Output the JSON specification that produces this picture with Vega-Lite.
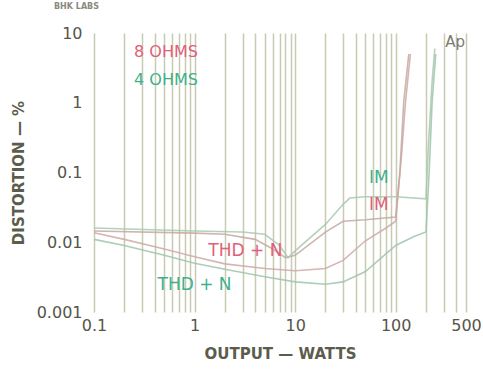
{
  "$schema": "https://vega.github.io/schema/vega-lite/v6.json",
  "width": 372,
  "height": 279,
  "autosize": "none",
  "padding": {"left": 94, "top": 33, "right": 17, "bottom": 58},
  "background": "#ffffff",
  "config": {"view": {"stroke": null}},
  "title": {"text": "BHK LABS", "anchor": "start", "frame": "group", "dx": -40, "offset": 14, "fontSize": 8, "font": "DejaVu Sans", "fontWeight": "bold", "color": "#8a8a80"},
  "resolve": {"scale": {"color": "independent"}},
  "datasets": {
    "curves": [
      {"series": "THD 8", "watts": 0.1, "pct": 0.0137},
      {"series": "THD 8", "watts": 0.2, "pct": 0.011},
      {"series": "THD 8", "watts": 0.5, "pct": 0.008},
      {"series": "THD 8", "watts": 1, "pct": 0.0062},
      {"series": "THD 8", "watts": 2, "pct": 0.0049},
      {"series": "THD 8", "watts": 5, "pct": 0.0042},
      {"series": "THD 8", "watts": 10, "pct": 0.0039},
      {"series": "THD 8", "watts": 20, "pct": 0.0042},
      {"series": "THD 8", "watts": 30, "pct": 0.0055},
      {"series": "THD 8", "watts": 50, "pct": 0.0105},
      {"series": "THD 8", "watts": 80, "pct": 0.016},
      {"series": "THD 8", "watts": 100, "pct": 0.02},
      {"series": "THD 8", "watts": 115, "pct": 0.2},
      {"series": "THD 8", "watts": 125, "pct": 1},
      {"series": "THD 8", "watts": 140, "pct": 5},
      {"series": "THD 4", "watts": 0.1, "pct": 0.011},
      {"series": "THD 4", "watts": 0.2, "pct": 0.009},
      {"series": "THD 4", "watts": 0.5, "pct": 0.0065},
      {"series": "THD 4", "watts": 1, "pct": 0.005},
      {"series": "THD 4", "watts": 2, "pct": 0.0041},
      {"series": "THD 4", "watts": 5, "pct": 0.0032},
      {"series": "THD 4", "watts": 10, "pct": 0.0027},
      {"series": "THD 4", "watts": 20, "pct": 0.0025},
      {"series": "THD 4", "watts": 30, "pct": 0.0027},
      {"series": "THD 4", "watts": 50, "pct": 0.0038},
      {"series": "THD 4", "watts": 100, "pct": 0.009},
      {"series": "THD 4", "watts": 150, "pct": 0.012},
      {"series": "THD 4", "watts": 200, "pct": 0.014},
      {"series": "THD 4", "watts": 215, "pct": 0.1},
      {"series": "THD 4", "watts": 230, "pct": 1},
      {"series": "THD 4", "watts": 250, "pct": 5},
      {"series": "IM 8", "watts": 0.1, "pct": 0.0145},
      {"series": "IM 8", "watts": 1, "pct": 0.0135},
      {"series": "IM 8", "watts": 2, "pct": 0.013},
      {"series": "IM 8", "watts": 4, "pct": 0.011},
      {"series": "IM 8", "watts": 6, "pct": 0.008},
      {"series": "IM 8", "watts": 8, "pct": 0.006},
      {"series": "IM 8", "watts": 10, "pct": 0.0065},
      {"series": "IM 8", "watts": 20, "pct": 0.014},
      {"series": "IM 8", "watts": 30, "pct": 0.02},
      {"series": "IM 8", "watts": 50, "pct": 0.021},
      {"series": "IM 8", "watts": 100, "pct": 0.023},
      {"series": "IM 8", "watts": 110, "pct": 0.1},
      {"series": "IM 8", "watts": 120, "pct": 1},
      {"series": "IM 8", "watts": 135, "pct": 5},
      {"series": "IM 4", "watts": 0.1, "pct": 0.016},
      {"series": "IM 4", "watts": 1, "pct": 0.0145},
      {"series": "IM 4", "watts": 3, "pct": 0.014},
      {"series": "IM 4", "watts": 5, "pct": 0.013},
      {"series": "IM 4", "watts": 7, "pct": 0.009},
      {"series": "IM 4", "watts": 8.5, "pct": 0.006},
      {"series": "IM 4", "watts": 10, "pct": 0.0075},
      {"series": "IM 4", "watts": 20, "pct": 0.018},
      {"series": "IM 4", "watts": 30, "pct": 0.035},
      {"series": "IM 4", "watts": 35, "pct": 0.043},
      {"series": "IM 4", "watts": 50, "pct": 0.045},
      {"series": "IM 4", "watts": 100, "pct": 0.045},
      {"series": "IM 4", "watts": 200, "pct": 0.042},
      {"series": "IM 4", "watts": 210, "pct": 0.2},
      {"series": "IM 4", "watts": 230, "pct": 2},
      {"series": "IM 4", "watts": 245, "pct": 6}
    ],
    "labels": [
      {"text": "8 OHMS", "watts": 0.52, "pct": 5.3, "kind": "red", "size": 16},
      {"text": "4 OHMS", "watts": 0.52, "pct": 2.1, "kind": "green", "size": 16},
      {"text": "THD + N", "watts": 3.2, "pct": 0.0075, "kind": "red", "size": 17},
      {"text": "THD + N", "watts": 1.0, "pct": 0.00244, "kind": "green", "size": 17},
      {"text": "IM", "watts": 68, "pct": 0.0834, "kind": "green", "size": 17},
      {"text": "IM", "watts": 68, "pct": 0.0342, "kind": "red", "size": 17},
      {"text": "Ap", "watts": 389, "pct": 7.4, "kind": "gray", "size": 15}
    ]
  },
  "layer": [
    {
      "data": {"name": "curves"},
      "mark": {"type": "line", "strokeWidth": 1.6, "opacity": 0.85},
      "encoding": {
        "x": {
          "field": "watts", "type": "quantitative",
          "scale": {"type": "log", "domain": [0.1, 500], "nice": false},
          "axis": {
            "title": "OUTPUT — WATTS",
            "values": [0.1,0.2,0.3,0.4,0.5,0.6,0.7,0.8,0.9,1,2,3,4,5,6,7,8,9,10,20,30,40,50,60,70,80,90,100,200,300,400,500],
            "labelExpr": "datum.value == 0.1 ? '0.1' : datum.value == 1 ? '1' : datum.value == 10 ? '10' : datum.value == 100 ? '100' : datum.value == 500 ? '500' : ''",
            "labelFlush": false,
            "grid": true, "gridColor": "#c8cab2", "gridWidth": 1.5,
            "domain": false, "ticks": false,
            "labelPadding": 5, "labelFontSize": 16, "labelFont": "DejaVu Sans", "labelColor": "#55554a",
            "titleFont": "DejaVu Sans", "titleFontSize": 15, "titleFontWeight": "bold", "titleColor": "#5c5c4c", "titlePadding": 13
          }
        },
        "y": {
          "field": "pct", "type": "quantitative",
          "scale": {"type": "log", "domain": [0.001, 10], "nice": false},
          "axis": {
            "title": "DISTORTION — %",
            "values": [0.001, 0.01, 0.1, 1, 10],
            "format": ".3~f",
            "labelFlush": false,
            "grid": false, "domain": false, "ticks": false,
            "labelPadding": 12, "labelFontSize": 16, "labelFont": "DejaVu Sans", "labelColor": "#55554a",
            "titleFont": "DejaVu Sans", "titleFontSize": 15, "titleFontWeight": "bold", "titleColor": "#5c5c4c", "titlePadding": 10
          }
        },
        "detail": {"field": "series"},
        "color": {
          "field": "series", "type": "nominal",
          "scale": {"domain": ["THD 8", "THD 4", "IM 8", "IM 4"], "range": ["#cfa9a6", "#9fc4aa", "#c4a8a2", "#a9c8ae"]},
          "legend": null
        }
      }
    },
    {
      "data": {"name": "labels"},
      "mark": {"type": "text", "font": "DejaVu Sans", "align": "center", "baseline": "middle"},
      "encoding": {
        "x": {"field": "watts", "type": "quantitative"},
        "y": {"field": "pct", "type": "quantitative"},
        "text": {"field": "text"},
        "size": {"field": "size", "type": "quantitative", "scale": null},
        "color": {
          "field": "kind", "type": "nominal",
          "scale": {"domain": ["red", "green", "gray"], "range": ["#e0607a", "#3fb08c", "#7a7a70"]},
          "legend": null
        }
      }
    }
  ]
}
